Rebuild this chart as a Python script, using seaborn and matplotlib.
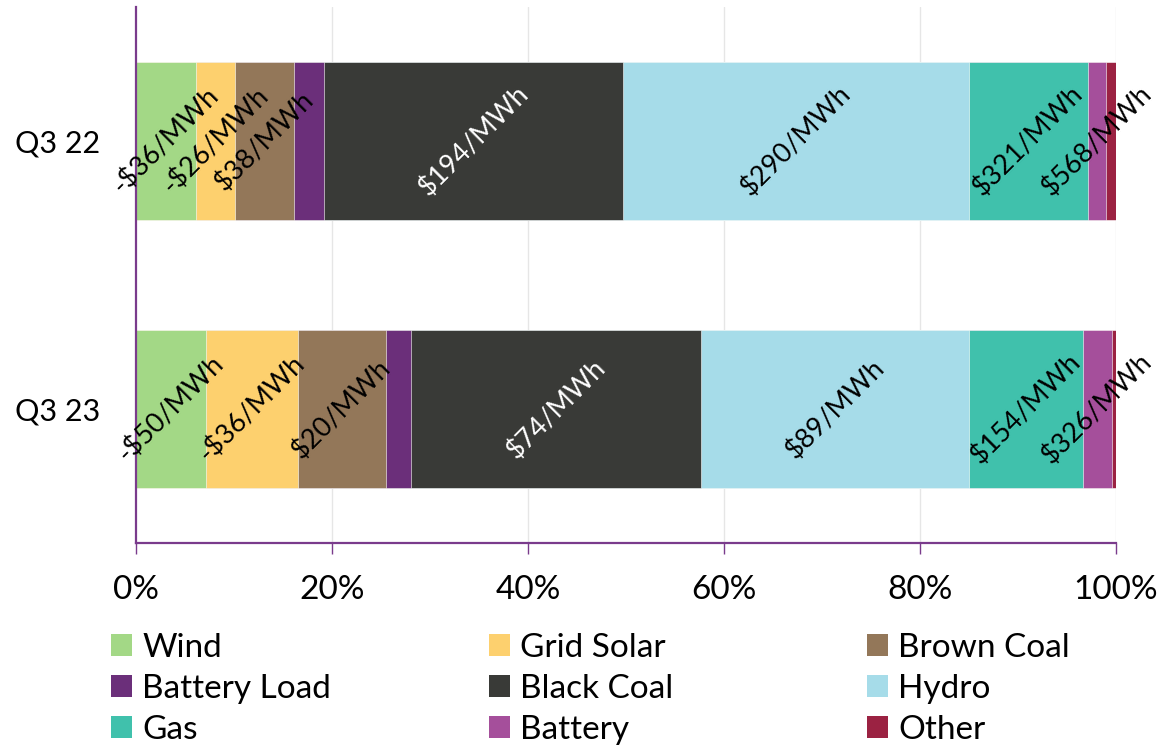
import matplotlib
matplotlib.use("Agg")
import matplotlib.pyplot as plt
from matplotlib.patches import Patch
from matplotlib.ticker import FuncFormatter
import numpy as np
import pandas as pd
import seaborn as sns

# Generation mix share (%) by fuel and wholesale price captured by each fuel
quarters = ["Q3 22", "Q3 23"]
fuels = ["Wind", "Grid Solar", "Brown Coal", "Battery Load", "Black Coal",
         "Hydro", "Gas", "Battery", "Other"]
share_q3_22 = [6.1, 4.0, 6.0, 3.1, 30.5, 35.3, 12.1, 1.9, 1.0]
share_q3_23 = [7.1, 9.4, 9.0, 2.6, 29.6, 27.3, 11.6, 3.0, 0.4]
price_q3_22 = [-36, -26, 38, None, 194, 290, 321, 568, None]
price_q3_23 = [-50, -36, 20, None, 74, 89, 154, 326, None]
colors = ["#A3D886", "#FDD06E", "#937759", "#6B2F7A", "#393A37",
          "#A6DCE9", "#40C1AC", "#A54F9B", "#9B2242"]
xticks = [0, 20, 40, 60, 80, 100]

sns.set_theme(style="white")
plt.rcParams["font.family"] = ["Lato", "DejaVu Sans"]
plt.rcParams["text.color"] = "black"

shares = np.array([share_q3_22, share_q3_23])
prices = [price_q3_22, price_q3_23]
ends = shares.cumsum(axis=1)
starts = ends - shares

fig = plt.figure(figsize=(11.6, 7.47), dpi=100)
ax = fig.add_axes([136 / 1160, 1 - 543 / 747, 980 / 1160, 536 / 747])

# vertical gridlines behind the bars
for xv in xticks[1:]:
    ax.axvline(xv, color="#E6E6E6", lw=1.0, zorder=0)

# stacked bars: draw cumulative totals from the last fuel back to the first
for j in range(len(fuels) - 1, -1, -1):
    df = pd.DataFrame({"quarter": quarters, "end": ends[:, j]})
    sns.barplot(data=df, x="end", y="quarter", orient="h", color=colors[j],
                width=0.59, saturation=1, edgecolor="white", linewidth=0.4,
                ax=ax, zorder=2)

# price labels centred on each segment
for i in range(len(quarters)):
    for j in range(len(fuels)):
        p = prices[i][j]
        if p is None:
            continue
        txt = f"-${abs(p)}/MWh" if p < 0 else f"${p}/MWh"
        tc = "white" if fuels[j] == "Black Coal" else "black"
        ax.text(starts[i, j] + shares[i, j] / 2, i, txt, rotation=45,
                rotation_mode="anchor", ha="center", va="center",
                fontsize=19.5, color=tc, zorder=5)

ax.set_xlim(0, 100)
ax.set_ylim(1.5, -0.5)
ax.set_xticks(xticks)
ax.xaxis.set_major_formatter(FuncFormatter(lambda v, _: f"{v:.0f}%"))
ax.set_xlabel("")
ax.set_ylabel("")

spine_c = "#7A3B8C"
for s in ["top", "right"]:
    ax.spines[s].set_visible(False)
for s in ["left", "bottom"]:
    ax.spines[s].set_color(spine_c)
    ax.spines[s].set_linewidth(1.6)
ax.tick_params(axis="x", bottom=True, length=8, width=1, color=spine_c,
               labelsize=24, pad=15, labelcolor="black")
ax.tick_params(axis="y", left=False, length=0, labelsize=22, pad=26,
               labelcolor="black")

# legend laid out as three columns
columns = [["Wind", "Battery Load", "Gas"],
           ["Grid Solar", "Black Coal", "Battery"],
           ["Brown Coal", "Hydro", "Other"]]
col_x = [111, 489, 867]
for names, x0 in zip(columns, col_x):
    handles = [Patch(facecolor=colors[fuels.index(n)], edgecolor="none", label=n)
               for n in names]
    fig.legend(handles=handles, loc="upper left",
               bbox_to_anchor=(x0 / 1160, 1 - 633 / 747),
               frameon=False, fontsize=24, borderpad=0, borderaxespad=0,
               handlelength=0.63, handleheight=0.63, handletextpad=0.3,
               labelspacing=0.33, labelcolor="black")

fig.savefig("out.png", dpi=100)
